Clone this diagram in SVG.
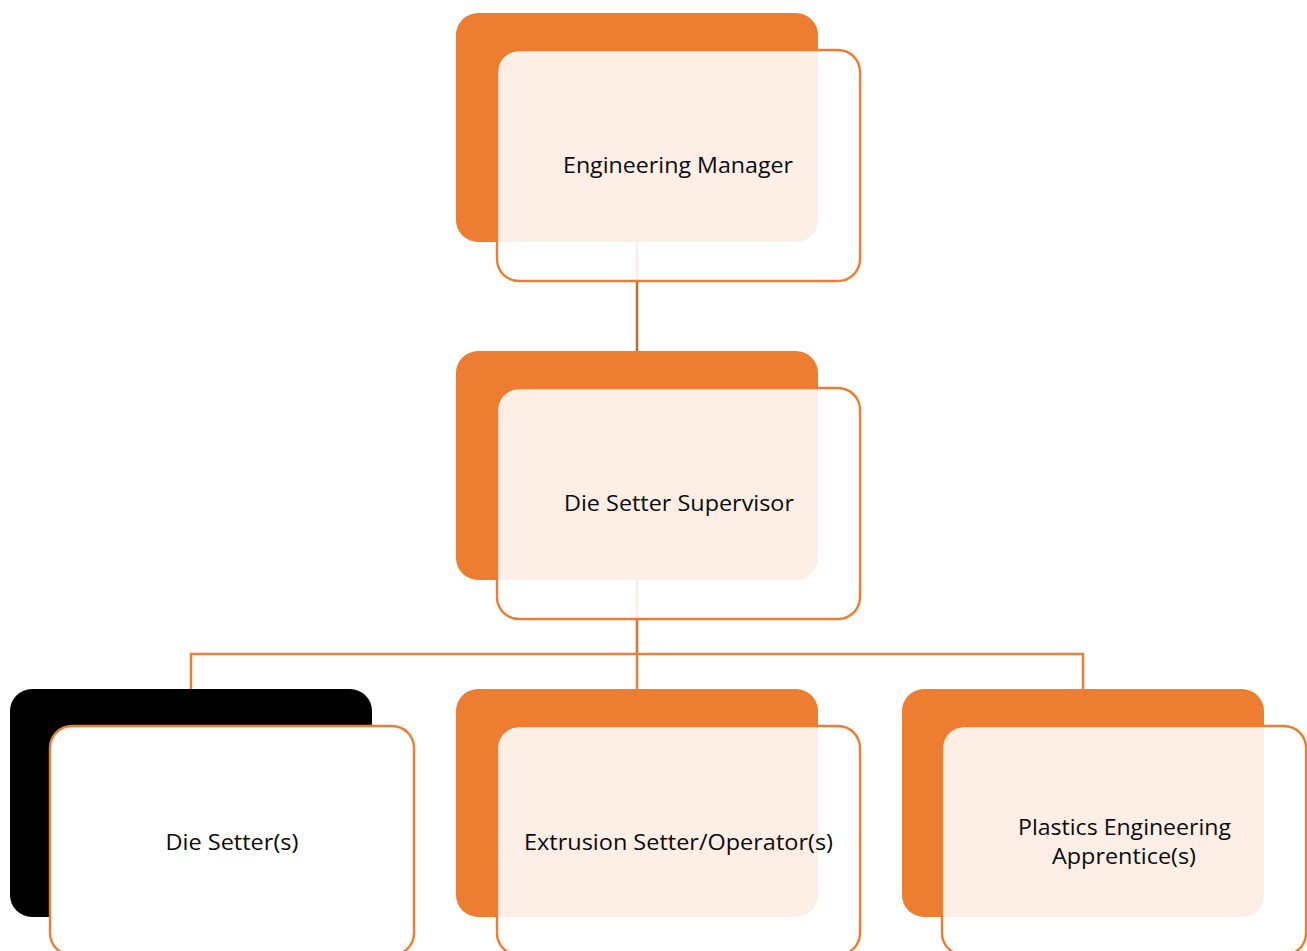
<svg xmlns="http://www.w3.org/2000/svg" width="1307" height="951" viewBox="0 0 1307 951">
  <style>
    .back { fill: #ED7D31; }
    .back.dark { fill: #000000; }
    .front { fill: #FFFFFF; fill-opacity: 0.88; stroke: #ED7D31; stroke-width: 2.4; }
    .front.solid { fill-opacity: 1; }
    .label { font-family: "Open Sans", "Noto Sans", "Liberation Sans", sans-serif; font-size: 21px; fill: #0A0A0A; text-anchor: middle; }
    .link { fill: none; stroke-width: 2.5; }
  </style>
  <rect width="1307" height="951" fill="#FFFFFF"/>

  <!-- connectors -->
  <g id="connectors">
    <line class="link" x1="637" y1="242" x2="637" y2="351" stroke="#C8692C"/>
    <line class="link" x1="637" y1="580" x2="637" y2="654" stroke="#DC722D"/>
    <path class="link" d="M191 689 V654 H1083 V689 M637 654 V689" stroke="#E9803A"/>
  </g>

  <!-- Engineering Manager -->
  <g id="node-engineering-manager">
    <rect class="back" x="456" y="13" width="362" height="229" rx="22"/>
    <rect class="front" x="497" y="50" width="363" height="231" rx="22"/>
    <text class="label" x="678" y="172.5" textLength="230" lengthAdjust="spacingAndGlyphs">Engineering Manager</text>
  </g>

  <!-- Die Setter Supervisor -->
  <g id="node-die-setter-supervisor">
    <rect class="back" x="456" y="351" width="362" height="229" rx="22"/>
    <rect class="front" x="497" y="388" width="363" height="231" rx="22"/>
    <text class="label" x="679" y="511" textLength="230" lengthAdjust="spacingAndGlyphs">Die Setter Supervisor</text>
  </g>

  <!-- Die Setter(s) -->
  <g id="node-die-setters">
    <rect class="back dark" x="10" y="689" width="362" height="228" rx="22"/>
    <rect class="front solid" x="50" y="726" width="364" height="229" rx="22"/>
    <text class="label" x="232" y="850" textLength="133" lengthAdjust="spacingAndGlyphs">Die Setter(s)</text>
  </g>

  <!-- Extrusion Setter/Operator(s) -->
  <g id="node-extrusion-setters">
    <rect class="back" x="456" y="689" width="362" height="228" rx="22"/>
    <rect class="front" x="497" y="726" width="363" height="229" rx="22"/>
    <text class="label" x="678.5" y="850" textLength="309" lengthAdjust="spacingAndGlyphs">Extrusion Setter/Operator(s)</text>
  </g>

  <!-- Plastics Engineering Apprentice(s) -->
  <g id="node-plastics-apprentices">
    <rect class="back" x="902" y="689" width="362" height="228" rx="22"/>
    <rect class="front" x="942" y="726" width="364" height="229" rx="22"/>
    <text class="label" x="1124.5" y="835" textLength="213" lengthAdjust="spacingAndGlyphs">Plastics Engineering</text>
    <text class="label" x="1124" y="864" textLength="144" lengthAdjust="spacingAndGlyphs">Apprentice(s)</text>
  </g>
</svg>
